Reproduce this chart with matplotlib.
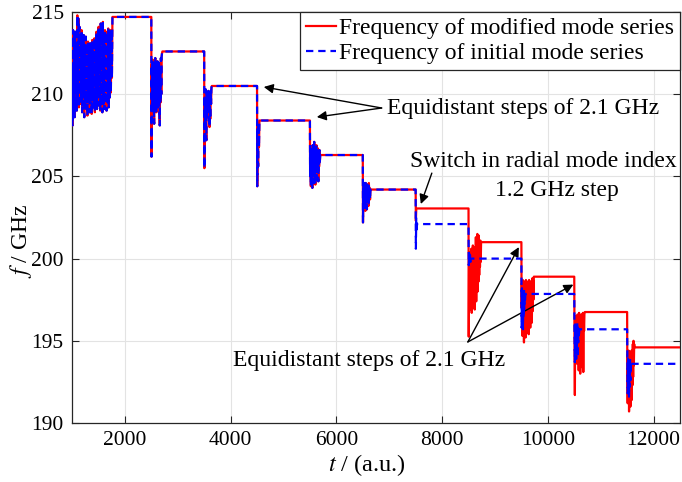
import numpy as np
import matplotlib
matplotlib.use("Agg")
import matplotlib.pyplot as plt

plt.rcParams["font.family"] = ["Liberation Serif", "DejaVu Serif"]
plt.rcParams["mathtext.fontset"] = "stix"

# Mode hop times and plateau frequencies (GHz)
step_times = [2500, 3500, 4500, 5500, 6500, 7500, 8500, 9500, 10500, 11500]
t_start, t_end = 1000, 12500
levels_initial = [214.7, 212.6, 210.5, 208.4, 206.3, 204.2, 202.1, 200.0, 197.85, 195.7, 193.6]
levels_modified = [214.7, 212.6, 210.5, 208.4, 206.3, 204.2, 203.05, 201.0, 198.9, 196.75, 194.6]

# Start-up oscillation (shared by both series), sampled 1000..1765
startup_f = [211.5, 208.1, 213.9, 209.3, 213.6, 208.6, 213.8, 210.1, 212.9, 209.0,
             214.8, 209.6, 214.6, 209.2, 214.1, 210.0, 213.7, 209.4, 213.9, 208.9,
             213.4, 209.8, 213.6, 208.6, 213.0, 209.5, 213.5, 209.1, 212.8, 208.7,
             213.2, 209.6, 212.9, 208.9, 213.1, 209.4, 212.7, 208.8, 213.3, 209.7,
             212.6, 209.2, 213.4, 208.9, 213.0, 209.5, 213.8, 209.1, 213.5, 209.8,
             214.1, 209.3, 213.9, 209.0, 214.3, 209.6, 214.0, 208.9, 214.4, 209.4,
             213.7, 209.1, 213.9, 209.7, 213.4, 209.0, 213.8, 209.5, 214.0, 209.2,
             213.6, 209.8, 213.9, 210.1, 213.5, 211.0, 214.7]
startup_end = 1765

# Transients after each hop: (duration, sampled values); shared up to t = 6500
hop_2500 = (210, [206.2, 211.8, 209.3, 212.1, 209.0, 211.6, 209.5, 208.2, 211.9, 209.1,
                  212.2, 209.6, 211.5, 208.9, 211.8, 209.4, 212.0, 209.2, 211.7, 209.7,
                  211.9, 208.8, 208.1, 211.6, 209.5, 212.2, 210.0, 212.3, 212.5, 212.6])
hop_3500 = (145, [205.5, 209.8, 207.9, 210.3, 208.2, 207.2, 210.1, 208.6, 209.9, 208.9,
                  210.2, 209.0, 210.0, 208.0, 209.7, 208.5, 210.2, 209.4, 210.4, 210.5])
hop_4500 = (45, [204.4, 207.9, 205.6, 208.2, 206.8, 208.4])
hop_5500 = (195, [205.0, 206.6, 204.4, 206.8, 204.9, 206.5, 204.3, 206.9, 205.2, 206.7,
                  204.6, 207.1, 205.0, 206.8, 204.5, 206.6, 205.3, 206.9, 204.8, 206.5,
                  205.5, 206.7, 204.7, 206.4, 205.6, 206.6, 205.9, 206.3])
hop_6500 = (145, [202.2, 204.5, 203.1, 204.6, 203.3, 204.4, 202.9, 204.6, 203.5, 204.3,
                  203.0, 204.5, 203.4, 204.4, 203.2, 204.6, 203.7, 204.3, 203.6, 204.2])

# Transients from t = 7500 on, separate per series
init_7500 = (25, [200.6, 202.5, 201.6, 202.1])
mod_7500 = (12, [202.3, 203.05])
init_8500 = (45, [199.6, 200.3, 199.7, 200.2, 199.8, 200.0])
mod_8500 = (245, [195.25, 199.5, 197.2, 200.4, 196.9, 199.8, 197.5, 200.6, 196.7, 199.2,
                  197.8, 200.8, 197.0, 200.1, 197.6, 199.5, 196.9, 200.7, 198.0, 201.3,
                  197.4, 200.2, 198.3, 201.5, 198.0, 201.2, 198.6, 201.4, 199.0, 200.9,
                  199.5, 201.1, 199.8, 201.0, 201.0])
init_9500 = (75, [195.8, 198.2, 196.2, 198.0, 195.7, 197.6, 196.4, 198.1, 196.9, 197.9,
                  197.3, 197.85])
mod_9500 = (235, [197.0, 198.5, 195.3, 198.7, 195.8, 198.3, 194.9, 198.6, 195.6, 198.4,
                  195.2, 198.7, 196.0, 198.5, 195.5, 198.6, 195.9, 198.3, 195.4, 198.7,
                  196.2, 198.5, 195.8, 198.6, 196.5, 198.4, 196.1, 198.8, 196.8, 198.7,
                  197.5, 198.9])
init_10500 = (95, [195.7, 193.7, 196.0, 194.3, 195.9, 193.9, 195.6, 194.6, 196.1, 194.0,
                   195.8, 194.9, 195.9, 195.2, 195.7])
mod_10500 = (200, [195.4, 191.7, 196.2, 193.9, 196.5, 194.4, 196.3, 193.6, 196.6, 194.8,
                   196.4, 193.2, 196.7, 194.5, 196.3, 193.0, 196.5, 194.9, 196.6, 193.4,
                   196.4, 195.2, 196.7, 193.1, 196.5, 195.6, 196.7, 196.75])
init_11500 = (75, [194.0, 191.8, 193.9, 192.0, 193.7, 191.6, 193.5, 192.2, 193.9, 192.6,
                   193.7, 193.6])
mod_11500 = (140, [193.0, 191.2, 194.2, 191.8, 194.4, 190.7, 193.9, 191.5, 194.3, 191.0,
                   193.8, 191.9, 194.4, 191.4, 194.0, 192.3, 194.8, 192.8, 195.0, 193.5,
                   194.8, 194.6])

shared_hops = [hop_2500, hop_3500, hop_4500, hop_5500, hop_6500]
initial_hops = shared_hops + [init_7500, init_8500, init_9500, init_10500, init_11500]
modified_hops = shared_hops + [mod_7500, mod_8500, mod_9500, mod_10500, mod_11500]


def build_series(levels, hops):
    t = list(np.linspace(t_start, startup_end, len(startup_f)))
    f = list(startup_f)
    ends = step_times + [t_end]
    t.append(ends[0])
    f.append(levels[0])
    for k, (span, vals) in enumerate(hops):
        t0 = step_times[k]
        t.extend(np.linspace(t0 + 4, t0 + span, len(vals)))
        f.extend(vals)
        t.append(ends[k + 1])
        f.append(levels[k + 1])
    return np.array(t), np.array(f)


t_mod, f_mod = build_series(levels_modified, modified_hops)
t_ini, f_ini = build_series(levels_initial, initial_hops)

fig = plt.figure(figsize=(6.82, 4.82), dpi=100)
ax = fig.add_axes([72 / 682, 59 / 482, 608 / 682, 411 / 482])

ax.plot(t_mod, f_mod, color="#ff0000", lw=1.6, label="Frequency of modified mode series", zorder=3)
ax.plot(t_ini, f_ini, color="#0000ff", lw=1.6, linestyle=(0, (3.3, 2.2)),
        label="Frequency of initial mode series", zorder=4)

ax.set_xlim(t_start, t_end)
ax.set_ylim(190, 215)
ax.set_xticks(np.arange(2000, 12001, 2000))
ax.set_yticks(np.arange(190, 216, 5))
ax.grid(True, color="#e3e3e3", lw=0.8)
ax.set_axisbelow(True)
ax.tick_params(direction="in", length=5, width=0.8, labelsize=15.5, top=True, right=True,
               colors="#262626", labelcolor="black")
ax.tick_params(axis="x", pad=6)
ax.tick_params(axis="y", pad=6)
for s in ax.spines.values():
    s.set_color("#262626")
    s.set_linewidth(0.9)

ax.set_xlabel("$t$ / (a.u.)", fontsize=17.5)
ax.set_ylabel("$f$ / GHz", fontsize=17)
ax.xaxis.set_label_coords(0.485, -0.102)
ax.yaxis.set_label_coords(-0.084, 0.443)
ax.xaxis.label.set_va("center")
ax.yaxis.label.set_va("center")

leg = ax.legend(loc="upper right", fontsize=17, frameon=True, fancybox=False,
                edgecolor="#262626", framealpha=1, borderaxespad=0, handlelength=1.27,
                handletextpad=0.15, borderpad=0.25, labelspacing=0.12)
leg.get_frame().set_linewidth(0.9)

arrow = dict(arrowstyle="-|>", color="black", lw=1.0, mutation_scale=14, shrinkA=0, shrinkB=0)

# Upper note: equal spacing of the first hops
ax.text(6950, 209.16, "Equidistant steps of 2.1 GHz", fontsize=17, ha="left", va="center")
ax.annotate("", xy=(4627, 210.44), xytext=(6857, 209.16), arrowprops=arrow)
ax.annotate("", xy=(5630, 208.61), xytext=(6857, 209.16), arrowprops=arrow)

# Radial mode switch
ax.text(9916, 205.88, "Switch in radial mode index", fontsize=17, ha="center", va="center")
ax.text(10172, 204.17, "1.2 GHz step", fontsize=17, ha="center", va="center")
ax.annotate("", xy=(7598, 203.32), xytext=(7806, 205.2), arrowprops=arrow)

# Lower note: equal spacing after the switch
ax.text(6614, 193.83, "Equidistant steps of 2.1 GHz", fontsize=17, ha="center", va="center")
ax.annotate("", xy=(9452, 200.70), xytext=(8487, 194.93), arrowprops=arrow)
ax.annotate("", xy=(10483, 198.42), xytext=(8487, 194.93), arrowprops=arrow)

fig.savefig("out.png", dpi=100)
